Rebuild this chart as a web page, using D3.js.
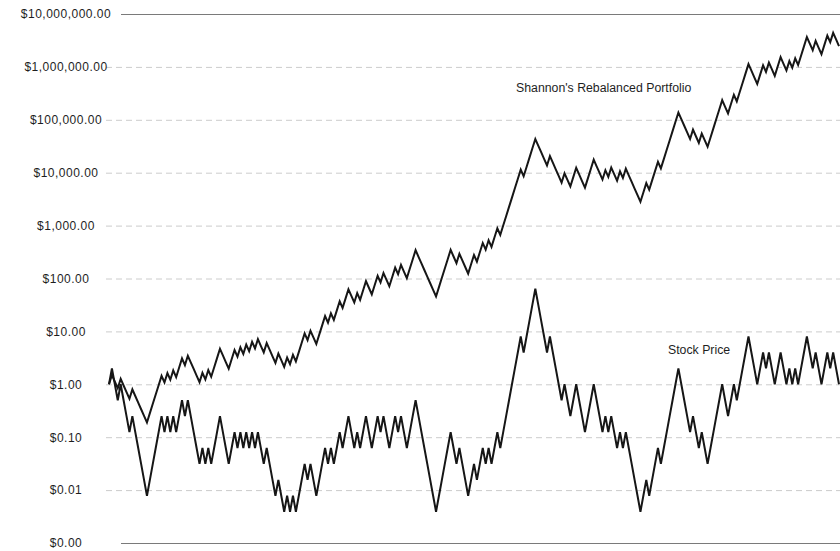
<!DOCTYPE html>
<html>
<head>
<meta charset="utf-8">
<script src="https://cdn.jsdelivr.net/npm/d3@7"></script>
<style>
  html, body { margin: 0; padding: 0; background: #ffffff; }
  svg { display: block; }
  .lbl { font-family: "Liberation Sans", Arial, sans-serif; fill: #1e1e1e; }
</style>
</head>
<body>
<svg id="chart" width="840" height="551"></svg>
<script>
// Stock price per period: it either doubles or halves each period.
const stockPrice = [
  1, 2, 1, 0.5, 1, 0.5, 0.25, 0.125, 0.25, 0.125,
  0.0625, 0.03125, 0.015625, 0.0078125, 0.015625, 0.03125, 0.0625, 0.125, 0.25, 0.125,
  0.25, 0.125, 0.25, 0.125, 0.25, 0.5, 0.25, 0.5, 0.25, 0.125,
  0.0625, 0.03125, 0.0625, 0.03125, 0.0625, 0.03125, 0.0625, 0.125, 0.25, 0.125,
  0.0625, 0.03125, 0.0625, 0.125, 0.0625, 0.125, 0.0625, 0.125, 0.0625, 0.125,
  0.0625, 0.125, 0.0625, 0.03125, 0.0625, 0.03125, 0.015625, 0.0078125, 0.015625, 0.0078125,
  0.00390625, 0.0078125, 0.00390625, 0.0078125, 0.00390625, 0.0078125, 0.015625, 0.03125, 0.015625, 0.03125,
  0.015625, 0.0078125, 0.015625, 0.03125, 0.0625, 0.03125, 0.0625, 0.03125, 0.0625, 0.125,
  0.0625, 0.125, 0.25, 0.125, 0.0625, 0.125, 0.0625, 0.125, 0.25, 0.125,
  0.0625, 0.125, 0.25, 0.125, 0.25, 0.125, 0.0625, 0.125, 0.25, 0.125,
  0.25, 0.125, 0.0625, 0.125, 0.25, 0.5, 0.25, 0.125, 0.0625, 0.03125,
  0.015625, 0.0078125, 0.00390625, 0.0078125, 0.015625, 0.03125, 0.0625, 0.125, 0.0625, 0.03125,
  0.0625, 0.03125, 0.015625, 0.0078125, 0.015625, 0.03125, 0.015625, 0.03125, 0.0625, 0.03125,
  0.0625, 0.03125, 0.0625, 0.125, 0.0625, 0.125, 0.25, 0.5, 1, 2,
  4, 8, 4, 8, 16, 32, 64, 32, 16, 8,
  4, 8, 4, 2, 1, 0.5, 1, 0.5, 0.25, 0.5,
  1, 0.5, 0.25, 0.125, 0.25, 0.5, 1, 0.5, 0.25, 0.125,
  0.25, 0.125, 0.25, 0.125, 0.0625, 0.125, 0.0625, 0.125, 0.0625, 0.03125,
  0.015625, 0.0078125, 0.00390625, 0.0078125, 0.015625, 0.0078125, 0.015625, 0.03125, 0.0625, 0.03125,
  0.0625, 0.125, 0.25, 0.5, 1, 2, 1, 0.5, 0.25, 0.125,
  0.25, 0.125, 0.0625, 0.125, 0.0625, 0.03125, 0.0625, 0.125, 0.25, 0.5,
  1, 0.5, 0.25, 0.5, 1, 0.5, 1, 2, 4, 8,
  4, 2, 1, 2, 4, 2, 4, 2, 1, 2,
  4, 2, 1, 2, 1, 2, 1, 2, 4, 8,
  4, 2, 4, 2, 1, 2, 4, 2, 4, 2,
  1
];

// Value of the portfolio kept half in stock, half in cash, rebalanced every period.
const portfolioValue = [
  1, 1.5, 1.125, 0.8438, 1.266, 0.9492, 0.7119, 0.5339, 0.8009, 0.6007,
  0.4505, 0.3379, 0.2534, 0.1901, 0.2851, 0.4276, 0.6415, 0.9622, 1.443, 1.082,
  1.624, 1.218, 1.827, 1.370, 2.055, 3.083, 2.312, 3.468, 2.601, 1.951,
  1.463, 1.097, 1.646, 1.234, 1.852, 1.389, 2.083, 3.125, 4.687, 3.515,
  2.636, 1.977, 2.966, 4.449, 3.337, 5.005, 3.754, 5.631, 4.223, 6.335,
  4.751, 7.126, 5.345, 4.009, 6.013, 4.510, 3.382, 2.537, 3.805, 2.854,
  2.140, 3.211, 2.408, 3.612, 2.709, 4.063, 6.095, 9.143, 6.857, 10.29,
  7.714, 5.786, 8.678, 13.02, 19.53, 14.64, 21.97, 16.48, 24.71, 37.07,
  27.80, 41.70, 62.55, 46.92, 35.19, 52.78, 39.58, 59.38, 89.06, 66.80,
  50.10, 75.15, 112.7, 84.54, 126.8, 95.11, 71.33, 107.0, 160.5, 120.4,
  180.6, 135.4, 101.6, 152.4, 228.5, 342.8, 257.1, 192.8, 144.6, 108.5,
  81.34, 61.01, 45.76, 68.63, 103.0, 154.4, 231.6, 347.5, 260.6, 195.5,
  293.2, 219.9, 164.9, 123.7, 185.5, 278.3, 208.7, 313.1, 469.6, 352.2,
  528.3, 396.2, 594.3, 891.5, 668.6, 1003, 1504, 2257, 3385, 5077,
  7616, 11420, 8568, 12850, 19280, 28920, 43380, 32530, 24400, 18300,
  13720, 20590, 15440, 11580, 8685, 6514, 9771, 7328, 5496, 8244,
  12370, 9275, 6956, 5217, 7825, 11740, 17610, 13210, 9904, 7428,
  11140, 8357, 12540, 9401, 7051, 10580, 7932, 11900, 8924, 6693,
  5020, 3765, 2824, 4235, 6353, 4765, 7147, 10720, 16080, 12060,
  18090, 27140, 40710, 61060, 91590, 137400, 103000, 77280, 57960, 43470,
  65200, 48900, 36680, 55010, 41260, 30950, 46420, 69630, 104400, 156700,
  235000, 176200, 132200, 198300, 297400, 223100, 334600, 501900, 752800, 1129000,
  846900, 635200, 476400, 714600, 1072000, 803900, 1206000, 904400, 678300, 1017000,
  1526000, 1145000, 858400, 1288000, 965700, 1449000, 1086000, 1630000, 2444000, 3667000,
  2750000, 2063000, 3094000, 2320000, 1740000, 2610000, 3916000, 2937000, 4405000, 3304000,
  2478000
];

const tickValues = [0.001, 0.01, 0.1, 1, 10, 100, 1000, 10000, 100000, 1000000, 10000000];
const tickLabels = ["$0.00", "$0.01", "$0.10", "$1.00", "$10.00", "$100.00", "$1,000.00",
                    "$10,000.00", "$100,000.00", "$1,000,000.00", "$10,000,000.00"];

const seriesLabels = ["Shannon's Rebalanced Portfolio", "Stock Price"];

(function draw() {
  const svg = d3.select("#chart");
  const plotLeft = 109, plotRight = 839, plotTop = 14, plotBottom = 543;
  const frameLeft = 121, gridLeft = 106, chartEdge = 840;

  const periods = stockPrice.map((_, i) => i);
  const x = d3.scaleLinear().domain([0, periods.length - 1]).range([plotLeft, plotRight]);
  const y = d3.scaleLog().domain([0.001, 10000000]).range([plotBottom, plotTop]);

  const isFrame = (d) => d === tickValues[0] || d === tickValues[tickValues.length - 1];

  // Dashed grid at every inner decade
  const grid = svg.append("g")
    .attr("transform", `translate(${gridLeft},0)`)
    .call(d3.axisLeft(y).tickValues(tickValues.filter((d) => !isFrame(d)))
          .tickSize(-(chartEdge - gridLeft)).tickFormat(""));
  grid.select(".domain").remove();
  grid.selectAll(".tick line")
    .attr("stroke", "#cccccc")
    .attr("stroke-dasharray", "6,4")
    .attr("stroke-width", 1);

  // Solid top and bottom rules of the plot
  const frame = svg.append("g")
    .attr("transform", `translate(${frameLeft},0)`)
    .call(d3.axisLeft(y).tickValues(tickValues.filter(isFrame))
          .tickSize(-(chartEdge - frameLeft)).tickFormat(""));
  frame.select(".domain").remove();
  frame.selectAll(".tick line")
    .attr("stroke", "#7a7a7a")
    .attr("stroke-width", 1);

  // Currency labels on the value axis, centred in the margin
  const yAxis = svg.append("g")
    .attr("transform", "translate(66,0)")
    .call(d3.axisLeft(y).tickValues(tickValues).tickSize(0).tickPadding(0)
          .tickFormat((d, i) => tickLabels[i]));
  yAxis.select(".domain").remove();
  yAxis.selectAll("text")
    .attr("class", "lbl")
    .attr("text-anchor", "middle")
    .attr("font-size", 12)
    .attr("letter-spacing", 0.5)
    .attr("fill", "#1e1e1e");

  const line = d3.line()
    .x((d, i) => x(periods[i]))
    .y((d) => y(d));

  [portfolioValue, stockPrice].forEach((series) => {
    svg.append("path")
      .datum(series)
      .attr("fill", "none")
      .attr("stroke", "#161616")
      .attr("stroke-width", 2)
      .attr("stroke-linejoin", "miter")
      .attr("stroke-miterlimit", 3)
      .attr("d", line);
  });

  svg.append("text")
    .attr("class", "lbl")
    .attr("x", 516).attr("y", 92)
    .attr("font-size", 12.3)
    .text(seriesLabels[0]);

  svg.append("text")
    .attr("class", "lbl")
    .attr("x", 668).attr("y", 354)
    .attr("font-size", 12.3)
    .text(seriesLabels[1]);
})();
</script>
</body>
</html>
